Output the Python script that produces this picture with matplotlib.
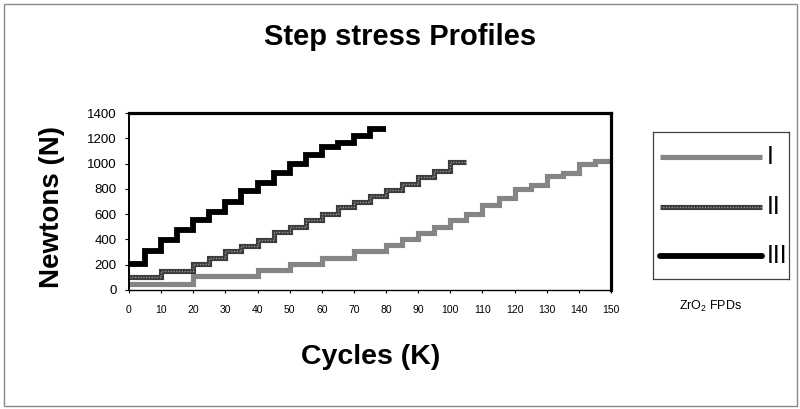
import matplotlib
matplotlib.use('Agg')
import matplotlib.pyplot as plt
from matplotlib.patches import Rectangle

plt.rcParams['font.family'] = ['Liberation Sans', 'DejaVu Sans']
plt.rcParams['mathtext.fontset'] = 'custom'
plt.rcParams['mathtext.rm'] = 'Liberation Sans'

# ---------------- data ----------------
title = 'Step stress Profiles'
x_label = 'Cycles (K)'
y_label = 'Newtons (N)'
legend_title = r'ZrO$_\mathregular{2}$ FPDs'
series_names = ['I', 'II', 'III']

cycles_I = [0, 20, 40, 50, 60, 70, 80, 85, 90, 95, 100, 105, 110, 115, 120, 125, 130, 135, 140, 145]
end_I = 150
load_I = [50, 110, 160, 205, 250, 305, 355, 400, 450, 495, 550, 605, 675, 725, 795, 830, 900, 925, 995, 1020]

cycles_II = [0, 10, 20, 25, 30, 35, 40, 45, 50, 55, 60, 65, 70, 75, 80, 85, 90, 95, 100]
end_II = 105
load_II = [105, 150, 205, 255, 305, 350, 395, 455, 500, 555, 605, 655, 700, 745, 790, 840, 895, 945, 1015]

cycles_III = [0, 5, 10, 15, 20, 25, 30, 35, 40, 45, 50, 55, 60, 65, 70, 75]
end_III = 80
load_III = [205, 305, 395, 475, 550, 620, 695, 780, 845, 925, 1000, 1065, 1130, 1165, 1215, 1270]

x_ticks = list(range(0, 151, 10))
y_ticks = list(range(0, 1401, 200))

# ---------------- figure ----------------
W, H = 800, 409
fig = plt.figure(figsize=(W / 100, H / 100), dpi=100)
fig.patch.set_facecolor('white')

# outer frame
fig.add_artist(Rectangle((4 / W, 3 / H), (797 - 4) / W, (406 - 4) / H,
                         transform=fig.transFigure, fill=False,
                         edgecolor='#8a8a8a', lw=1.0))

ax = fig.add_axes([129 / W, (H - 290) / H, (611 - 129) / W, (290 - 113) / H])
ax.set_xlim(0, 150)
ax.set_ylim(0, 1400)

style_I = dict(color='#858585', lw=3.7, solid_joinstyle='miter', solid_capstyle='butt')
style_II = dict(color='#3c3c3c', lw=3.7, solid_joinstyle='miter', solid_capstyle='butt')
style_II_dots = dict(color='#a0a0a0', lw=1.0, linestyle=(0, (0.8, 1.2)))
style_III = dict(color='black', lw=4.2, solid_joinstyle='miter', solid_capstyle='butt')


def steps(c, end, v):
    return list(c) + [end], list(v) + [v[-1]]


xI, yI = steps(cycles_I, end_I, load_I)
xII, yII = steps(cycles_II, end_II, load_II)
xIII, yIII = steps(cycles_III, end_III, load_III)

ax.step(xI, yI, where='post', **style_I)
ax.step(xII, yII, where='post', **style_II)
ax.step(xII, yII, where='post', **style_II_dots)
ax.step(xIII, yIII, where='post', **style_III)

ax.set_xticks(x_ticks)
ax.set_yticks(y_ticks)
ax.tick_params(axis='x', direction='out', length=2.5, width=0.8, pad=8, labelsize=7.5)
ax.tick_params(axis='y', direction='out', length=3, width=0.8, pad=6, labelsize=9.5)

for s in ['top', 'right']:
    ax.spines[s].set_linewidth(2.3)
ax.spines['left'].set_linewidth(1.4)
ax.spines['bottom'].set_linewidth(1.0)
for s in ax.spines.values():
    s.set_color('black')

# texts
fig.text(400 / W, 1 - 37 / H, title, ha='center', va='center', fontsize=21, fontweight='bold')
fig.text(371 / W, 1 - 357 / H, x_label, ha='center', va='center', fontsize=20.5, fontweight='bold')
fig.text(52 / W, 1 - 207 / H, y_label, ha='center', va='center', rotation=90, fontsize=20, fontweight='bold')

# legend box
lx0, lx1, ly0, ly1 = 652.7, 789, 131.7, 279.3
lax = fig.add_axes([lx0 / W, (H - ly1) / H, (lx1 - lx0) / W, (ly1 - ly0) / H])
lax.set_xlim(0, 1)
lax.set_ylim(0, 1)
lax.set_xticks([])
lax.set_yticks([])
for s in lax.spines.values():
    s.set_color('#404040')
    s.set_linewidth(0.9)

leg_y = [0.826, 0.488, 0.158]
lx_a, lx_b = 0.054, 0.80
lax.plot([lx_a, lx_b], [leg_y[0]] * 2, **style_I)
lax.plot([lx_a, lx_b], [leg_y[1]] * 2, **style_II)
lax.plot([lx_a, lx_b], [leg_y[1]] * 2, **style_II_dots)
lax.plot([lx_a, lx_b], [leg_y[2]] * 2, color='black', lw=4.2, solid_capstyle='round')
for yv, name in zip(leg_y, series_names):
    lax.text(0.835, yv, name, ha='left', va='center', fontsize=18)

fig.text(711 / W, 1 - 306 / H, legend_title, ha='center', va='center', fontsize=9)

fig.savefig('out.png', dpi=100)
